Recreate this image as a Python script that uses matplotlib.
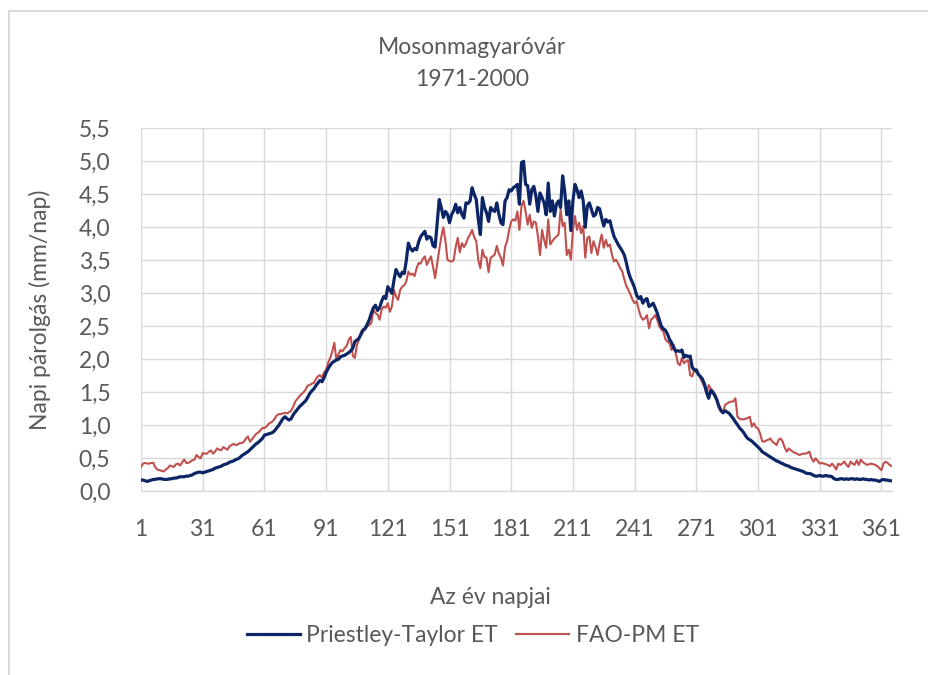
import numpy as np
import matplotlib
matplotlib.use("Agg")
import matplotlib.pyplot as plt
from matplotlib.lines import Line2D

title_lines = ["Mosonmagyaróvár", "1971-2000"]
x_label = "Az év napjai"
y_label = "Napi párolgás (mm/nap)"
series_names = ["Priestley-Taylor ET", "FAO-PM ET"]
x_ticks = [1, 31, 61, 91, 121, 151, 181, 211, 241, 271, 301, 331, 361]
y_ticks = [0.0, 0.5, 1.0, 1.5, 2.0, 2.5, 3.0, 3.5, 4.0, 4.5, 5.0, 5.5]

priestley_taylor = [
    0.17, 0.17, 0.16, 0.15, 0.16, 0.17, 0.18, 0.18, 0.19, 0.19,
    0.19, 0.18, 0.18, 0.18, 0.19, 0.19, 0.20, 0.20, 0.21, 0.22,
    0.22, 0.22, 0.23, 0.23, 0.24, 0.25, 0.27, 0.28, 0.29, 0.29,
    0.28, 0.29, 0.30, 0.31, 0.32, 0.33, 0.35, 0.36, 0.37, 0.38,
    0.40, 0.41, 0.42, 0.44, 0.45, 0.46, 0.48, 0.49, 0.51, 0.54,
    0.56, 0.58, 0.60, 0.63, 0.66, 0.69, 0.72, 0.74, 0.77, 0.80,
    0.85, 0.86, 0.87, 0.88, 0.89, 0.92, 0.96, 1.00, 1.05, 1.10,
    1.13, 1.10, 1.08, 1.10, 1.16, 1.20, 1.24, 1.28, 1.31, 1.34,
    1.37, 1.42, 1.48, 1.52, 1.55, 1.60, 1.64, 1.68, 1.66, 1.72,
    1.80, 1.86, 1.91, 1.95, 1.97, 1.99, 2.00, 2.04, 2.05, 2.06,
    2.08, 2.10, 2.13, 2.17, 2.27, 2.29, 2.32, 2.38, 2.44, 2.47,
    2.53, 2.60, 2.70, 2.78, 2.82, 2.74, 2.78, 2.88, 2.95, 2.92,
    3.10, 3.05, 3.00, 3.20, 3.36, 3.30, 3.25, 3.32, 3.30, 3.50,
    3.76, 3.68, 3.64, 3.68, 3.66, 3.78, 3.86, 3.90, 3.94, 3.82,
    3.86, 3.84, 3.72, 3.70, 4.07, 4.42, 4.30, 4.15, 4.24, 4.20,
    4.07, 4.19, 4.25, 4.35, 4.22, 4.30, 4.20, 4.14, 4.37, 4.36,
    4.40, 4.60, 4.50, 4.42, 4.12, 3.89, 4.45, 4.30, 4.22, 4.09,
    4.30, 4.26, 4.24, 4.37, 4.20, 4.07, 4.04, 4.40, 4.45, 4.57,
    4.55, 4.60, 4.62, 4.65, 4.35, 4.98, 5.00, 4.65, 4.63, 4.35,
    4.57, 4.62, 4.47, 4.24, 4.52, 4.45, 4.37, 4.19, 4.67, 4.24,
    4.40, 4.17, 4.35, 4.40, 4.30, 4.78, 4.55, 4.19, 4.40, 3.95,
    4.40, 4.65, 4.57, 4.45, 4.55, 4.40, 4.00, 4.32, 4.37, 4.27,
    4.17, 4.19, 4.30, 4.28, 4.14, 4.02, 4.12, 4.08, 4.10, 3.97,
    3.86, 3.80, 3.74, 3.69, 3.64, 3.58, 3.46, 3.32, 3.23, 3.16,
    3.08, 2.97, 2.92, 2.95, 2.85, 2.90, 2.92, 2.80, 2.82, 2.85,
    2.78, 2.70, 2.60, 2.50, 2.46, 2.44, 2.38, 2.30, 2.25, 2.18,
    2.12, 2.13, 2.12, 2.14, 2.03, 2.06, 2.04, 2.05, 1.88, 1.84,
    1.84, 1.77, 1.74, 1.70, 1.62, 1.50, 1.41, 1.53, 1.50, 1.45,
    1.38, 1.28, 1.22, 1.19, 1.22, 1.20, 1.18, 1.14, 1.10, 1.05,
    1.01, 0.96, 0.93, 0.89, 0.84, 0.80, 0.78, 0.76, 0.73, 0.70,
    0.67, 0.64, 0.60, 0.58, 0.56, 0.54, 0.52, 0.50, 0.48, 0.46,
    0.45, 0.43, 0.42, 0.40, 0.39, 0.38, 0.36, 0.35, 0.34, 0.33,
    0.32, 0.31, 0.30, 0.28, 0.27, 0.27, 0.26, 0.24, 0.23, 0.23,
    0.24, 0.23, 0.23, 0.24, 0.23, 0.23, 0.22, 0.19, 0.18, 0.18,
    0.19, 0.19, 0.18, 0.19, 0.18, 0.19, 0.19, 0.18, 0.19, 0.18,
    0.18, 0.19, 0.18, 0.18, 0.17, 0.18, 0.17, 0.17, 0.16, 0.15,
    0.17, 0.18, 0.17, 0.17, 0.16, 0.16,
]

fao_pm = [
    0.37, 0.42, 0.43, 0.42, 0.42, 0.43, 0.43, 0.36, 0.33, 0.32,
    0.31, 0.30, 0.33, 0.35, 0.39, 0.38, 0.37, 0.41, 0.42, 0.39,
    0.44, 0.48, 0.43, 0.43, 0.45, 0.47, 0.48, 0.55, 0.52, 0.50,
    0.58, 0.57, 0.57, 0.60, 0.62, 0.57, 0.60, 0.65, 0.63, 0.62,
    0.67, 0.65, 0.63, 0.68, 0.70, 0.72, 0.70, 0.71, 0.73, 0.73,
    0.75, 0.80, 0.83, 0.75, 0.79, 0.83, 0.87, 0.89, 0.92, 0.96,
    0.96, 0.98, 1.02, 1.04, 1.06, 1.10, 1.15, 1.17, 1.17, 1.18,
    1.19, 1.18, 1.20, 1.22, 1.28, 1.36, 1.40, 1.44, 1.47, 1.50,
    1.54, 1.60, 1.61, 1.63, 1.64, 1.70, 1.74, 1.76, 1.72, 1.80,
    1.84, 1.95, 2.02, 2.12, 2.25, 1.99, 2.08, 2.14, 2.12, 2.17,
    2.20, 2.30, 2.34, 2.05, 2.02, 2.22, 2.30, 2.42, 2.46, 2.45,
    2.50, 2.52, 2.55, 2.75, 2.70, 2.68, 2.60, 2.75, 2.80, 2.78,
    2.85, 2.72, 2.80, 3.05, 2.95, 2.90, 3.05, 3.10, 3.12, 3.18,
    3.33, 3.28, 3.30, 3.26, 3.38, 3.46, 3.45, 3.52, 3.56, 3.43,
    3.50, 3.56, 3.40, 3.23, 3.45, 3.66, 3.85, 4.00, 3.80, 3.51,
    3.49, 3.48, 3.50, 3.70, 3.84, 3.62, 3.76, 3.70, 3.75, 3.84,
    3.89, 3.96, 3.85, 3.79, 3.50, 3.38, 3.66, 3.55, 3.54, 3.32,
    3.54, 3.56, 3.59, 3.72, 3.60, 3.54, 3.42, 3.70, 3.79, 3.96,
    4.09, 4.12, 4.10, 4.24, 3.96, 4.32, 4.40, 4.24, 4.04, 4.19,
    3.99, 4.09, 4.07, 3.86, 3.58, 3.96, 3.81, 3.69, 4.12, 3.74,
    3.79, 3.83, 3.86, 3.89, 4.27, 4.02, 4.07, 3.58, 3.66, 3.51,
    3.96, 4.17, 3.96, 4.07, 3.91, 4.02, 3.54, 3.84, 3.86, 3.61,
    3.79, 3.70, 3.58, 3.76, 3.89, 3.69, 3.81, 3.71, 3.74, 3.58,
    3.48, 3.51, 3.45, 3.38, 3.33, 3.21, 3.11, 3.05, 2.98, 2.90,
    2.85, 2.88, 2.75, 2.65, 2.60, 2.62, 2.67, 2.47, 2.60, 2.63,
    2.67, 2.60, 2.50, 2.45, 2.42, 2.30, 2.27, 2.24, 2.14, 2.22,
    2.10, 1.94, 1.91, 2.02, 1.94, 1.97, 1.99, 1.76, 1.74, 1.84,
    1.80, 1.79, 1.71, 1.65, 1.58, 1.48, 1.61, 1.56, 1.52, 1.48,
    1.41, 1.31, 1.25, 1.18, 1.31, 1.33, 1.35, 1.36, 1.36, 1.41,
    1.13, 1.10, 1.09, 1.09, 1.10, 1.11, 1.13, 0.98, 1.03, 0.97,
    0.95, 0.88, 0.76, 0.75, 0.77, 0.78, 0.80, 0.75, 0.73, 0.70,
    0.78, 0.80, 0.75, 0.66, 0.60, 0.65, 0.62, 0.60, 0.58, 0.57,
    0.55, 0.56, 0.57, 0.57, 0.58, 0.60, 0.50, 0.45, 0.50, 0.46,
    0.42, 0.43, 0.42, 0.41, 0.40, 0.38, 0.42, 0.38, 0.33, 0.42,
    0.40, 0.42, 0.45, 0.40, 0.37, 0.45, 0.42, 0.40, 0.47, 0.40,
    0.48, 0.44, 0.42, 0.40, 0.41, 0.42, 0.41, 0.40, 0.38, 0.35,
    0.32, 0.42, 0.45, 0.43, 0.40, 0.38,
]

plt.rcParams['font.family'] = ['Lato', 'DejaVu Sans']
TXT = '#595959'
GRID = '#d9d9d9'
FS = 16.5

W, H = 929, 675
fig = plt.figure(figsize=(W / 100, H / 100), dpi=100)
fig.patch.set_facecolor('white')

# chart-area border (only top and left edges are visible in the crop)
fig.add_artist(Line2D([8.5 / W, 8.5 / W], [0, 1 - 10.7 / H], transform=fig.transFigure,
                      color=GRID, lw=1.3))
fig.add_artist(Line2D([8.5 / W, 1], [1 - 10.7 / H, 1 - 10.7 / H], transform=fig.transFigure,
                      color=GRID, lw=1.3))

left, right, top, bottom = 141, 891.7, 128.3, 491.3
ax = fig.add_axes([left / W, 1 - bottom / H, (right - left) / W, (bottom - top) / H])

days = np.arange(1, len(priestley_taylor) + 1)
ax.plot(days, priestley_taylor, color='#0c2566', lw=2.3, label=series_names[0],
        solid_joinstyle='round', zorder=3)
ax.plot(np.arange(1, len(fao_pm) + 1), fao_pm, color='#c0504d', lw=1.5, label=series_names[1],
        solid_joinstyle='round', zorder=2)

ax.set_xlim(1, len(priestley_taylor))
ax.set_ylim(0, 5.5)
ax.set_xticks(x_ticks)
ax.set_xticklabels([str(t) for t in x_ticks])
ax.set_yticks(y_ticks)
ax.set_yticklabels([f"{t:.1f}".replace('.', ',') for t in y_ticks])
ax.grid(True, color=GRID, lw=1.0)
ax.set_axisbelow(True)
for s in ['top', 'right', 'left']:
    ax.spines[s].set_visible(False)
ax.spines['bottom'].set_color(GRID)
ax.spines['bottom'].set_linewidth(1.0)
ax.tick_params(axis='both', length=0, colors=TXT, labelsize=FS)
ax.tick_params(axis='x', pad=20)
ax.tick_params(axis='y', pad=22)

fig.text(490 / W, 1 - 598 / H, x_label, ha='center', va='center', fontsize=FS, color=TXT)
fig.text(40 / W, 1 - 310 / H, y_label, ha='center', va='center', rotation=90,
         fontsize=FS, color=TXT)

fig.text(472 / W, 1 - 48 / H, title_lines[0], ha='center', va='center', fontsize=FS, color=TXT)
fig.text(472 / W, 1 - 80 / H, title_lines[1], ha='center', va='center', fontsize=FS, color=TXT)

fig.legend(loc='center', bbox_to_anchor=(473 / W, 1 - 636 / H), ncol=2, frameon=False,
           fontsize=FS, labelcolor=TXT, handlelength=2.3, handletextpad=0.3,
           columnspacing=0.8)

fig.savefig('out.png', dpi=100, facecolor='white')
